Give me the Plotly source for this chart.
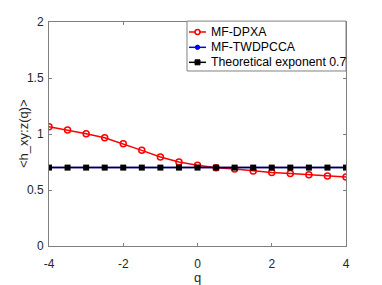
import plotly.graph_objects as go

q = [-4, -3.5, -3, -2.5, -2, -1.5, -1, -0.5, 0, 0.5, 1, 1.5, 2, 2.5, 3, 3.5, 4]
mf_dpxa = [1.065, 1.035, 1.003, 0.967, 0.913, 0.854, 0.794, 0.75, 0.722, 0.699, 0.687,
           0.669, 0.657, 0.648, 0.637, 0.625, 0.616]
mf_twdpcca = [0.7] * 17
theory = [0.7] * 17

x_ticks = [-4, -2, 0, 2, 4]
y_ticks = [0, 0.5, 1, 1.5, 2]

names = ["MF-DPXA", "MF-TWDPCCA", "Theoretical exponent 0.7"]
colors = ["#ff0000", "#0000ff", "#000000"]
x_title = "q"
y_title = "<h_xy:z(q)>"

FONT = "Liberation Sans, Arial"

fig = go.Figure()
fig.add_trace(go.Scatter(x=q, y=mf_dpxa, mode="lines+markers", name=names[0],
                         line=dict(color=colors[0], width=1.5),
                         marker=dict(symbol="circle-open", size=6, color=colors[0],
                                     line=dict(width=1.5, color=colors[0]))))
fig.add_trace(go.Scatter(x=q, y=mf_twdpcca, mode="lines+markers", name=names[1],
                         line=dict(color=colors[1], width=1.5),
                         marker=dict(symbol="circle", size=5, color=colors[1])))
fig.add_trace(go.Scatter(x=q, y=theory, mode="lines+markers", name=names[2],
                         line=dict(color=colors[2], width=1.5),
                         marker=dict(symbol="square", size=6, color=colors[2])))

axis_common = dict(showgrid=False, zeroline=False, showline=True, linecolor="#808080",
                   linewidth=1, mirror="ticks", ticks="inside", ticklen=3,
                   tickcolor="#808080", automargin=False,
                   tickfont=dict(family=FONT, size=12, color="#262626"))
fig.update_xaxes(range=[-4, 4], tickvals=x_ticks, ticktext=[str(v) for v in x_ticks],
                 ticklabelstandoff=7, **axis_common)
fig.update_yaxes(range=[0, 2], tickvals=y_ticks, ticktext=["0", "0.5", "1", "1.5", "2"],
                 ticklabelstandoff=2, **axis_common)

annotations = [
    dict(text=x_title, xref="paper", yref="paper", x=0.5, y=0, xanchor="center",
         yanchor="middle", yshift=-31, showarrow=False,
         font=dict(family=FONT, size=13, color="#262626")),
    dict(text=y_title, xref="paper", yref="paper", x=0, y=0.5, xanchor="center",
         yanchor="middle", xshift=-26, textangle=-90, showarrow=False,
         font=dict(family=FONT, size=13, color="#262626")),
]

# Custom MATLAB-style legend (decoration in paper coordinates)
shapes = [dict(type="rect", xref="paper", yref="paper", x0=0.4646, x1=1.0, y0=0.7813,
               y1=1.004, line=dict(color="#808080", width=1), fillcolor="white",
               layer="above")]
row_y = [0.9554, 0.887, 0.820]
for i, (nm, c) in enumerate(zip(names, colors)):
    yy = row_y[i]
    shapes.append(dict(type="line", xref="paper", yref="paper", x0=0.4714, x1=0.5286,
                       y0=yy, y1=yy, line=dict(color=c, width=1.5), layer="above"))
    if i == 0:
        shapes.append(dict(type="circle", xref="paper", yref="paper", xsizemode="pixel",
                           ysizemode="pixel", xanchor=0.5, yanchor=yy, x0=-2.5, x1=2.5,
                           y0=-2.5, y1=2.5, line=dict(color=c, width=1.5),
                           fillcolor="white", layer="above"))
    elif i == 1:
        shapes.append(dict(type="circle", xref="paper", yref="paper", xsizemode="pixel",
                           ysizemode="pixel", xanchor=0.5, yanchor=yy, x0=-2.2, x1=2.2,
                           y0=-2.2, y1=2.2, line=dict(color=c, width=1),
                           fillcolor=c, layer="above"))
    else:
        shapes.append(dict(type="rect", xref="paper", yref="paper", xsizemode="pixel",
                           ysizemode="pixel", xanchor=0.5, yanchor=yy, x0=-2.5, x1=2.5,
                           y0=-2.5, y1=2.5, line=dict(color=c, width=1),
                           fillcolor=c, layer="above"))
    annotations.append(dict(text=nm, xref="paper", yref="paper", x=0.5387, y=yy,
                            xanchor="left", yanchor="middle", showarrow=False,
                            font=dict(family=FONT, size=12.3, color="#000000")))

fig.update_layout(
    width=374, height=277,
    margin=dict(l=41, r=36, t=14, b=39),
    plot_bgcolor="white", paper_bgcolor="white",
    showlegend=False,
    shapes=shapes,
    annotations=annotations,
)

fig.write_html("out.html")
